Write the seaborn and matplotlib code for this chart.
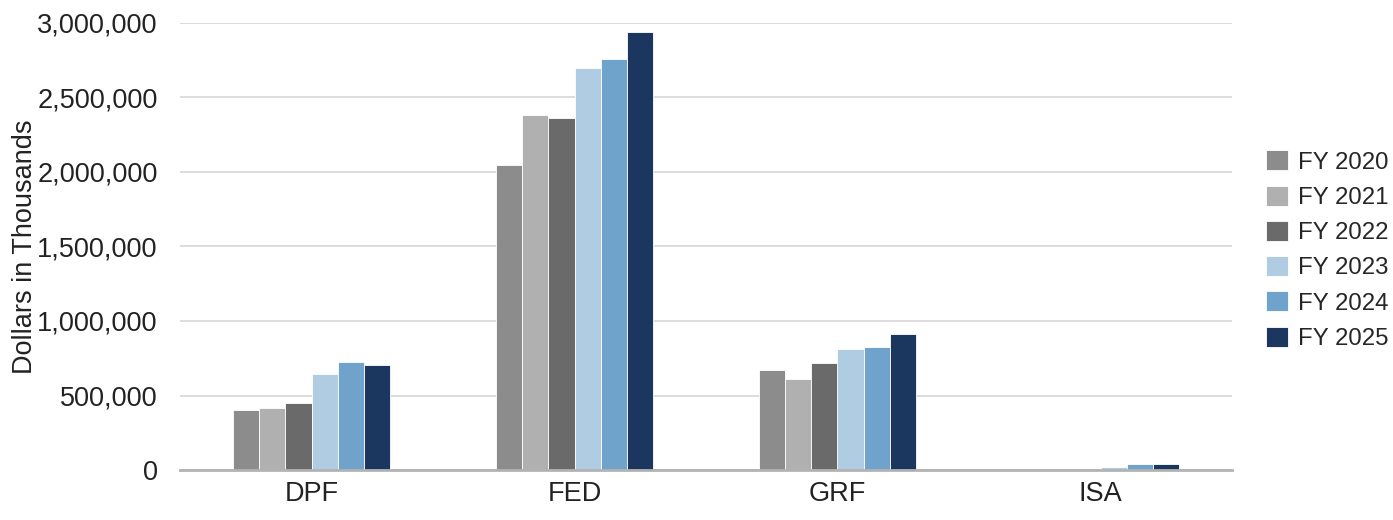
import matplotlib
matplotlib.use("Agg")
import matplotlib.pyplot as plt
import seaborn as sns
import pandas as pd
from matplotlib.ticker import FuncFormatter

categories = ["DPF", "FED", "GRF", "ISA"]
years = ["FY 2020", "FY 2021", "FY 2022", "FY 2023", "FY 2024", "FY 2025"]
fy2020 = [403000, 2047000, 671000, 0]
fy2021 = [418000, 2385000, 613000, 0]
fy2022 = [448000, 2360000, 716000, 0]
fy2023 = [644000, 2700000, 812000, 20000]
fy2024 = [727000, 2756000, 828000, 38000]
fy2025 = [703000, 2937000, 915000, 37000]
colors = ["#8c8c8c", "#b0b0b0", "#6a6a6a", "#b0cce3", "#70a3cc", "#1b365f"]

series = [fy2020, fy2021, fy2022, fy2023, fy2024, fy2025]
rows = []
for y, vals in zip(years, series):
    for c, v in zip(categories, vals):
        rows.append({"cat": c, "year": y, "val": v})
df = pd.DataFrame(rows)

sns.set_theme(style="white")
plt.rcParams["font.family"] = ["Liberation Sans", "DejaVu Sans"]

fig = plt.figure(figsize=(13.93, 5.2), dpi=100)
ax = fig.add_axes([180/1393, 1-470/520, (1232-180)/1393, (470-23)/520])
sns.barplot(data=df, x="cat", y="val", hue="year", palette=colors, width=0.6,
            gap=0, ax=ax, edgecolor="white", linewidth=0.6, saturation=1)
ax.set_xlim(-0.5, 3.5)
ax.set_ylim(0, 3000000)
ax.set_yticks(range(0, 3000001, 500000))
ax.yaxis.set_major_formatter(FuncFormatter(lambda v, p: f"{int(v):,}"))
ax.grid(axis="y", color="#d9d9d9", linewidth=1.3)
ax.set_axisbelow(True)
for s in ["top", "right", "left"]:
    ax.spines[s].set_visible(False)
ax.spines["bottom"].set_color("#b3b3b3")
ax.spines["bottom"].set_linewidth(2)
ax.spines["bottom"].set_zorder(5)
ax.tick_params(axis="y", labelsize=19.5, length=0, pad=16, colors="#222222")
ax.tick_params(axis="x", labelsize=19.5, length=0, pad=8, colors="#222222")
ax.set_xlabel("")
ax.set_ylabel("Dollars in Thousands", fontsize=19.5, color="#222222")
ax.yaxis.set_label_coords((38-180)/1052, 0.5)
leg = ax.legend(loc="center left", bbox_to_anchor=(1266/1393, 0.519), bbox_transform=fig.transFigure,
                frameon=False, fontsize=17.3, handlelength=0.9, handleheight=0.9,
                handletextpad=0.45, labelspacing=0.5, borderaxespad=0, borderpad=0)
fig.savefig("out.png", dpi=100)
